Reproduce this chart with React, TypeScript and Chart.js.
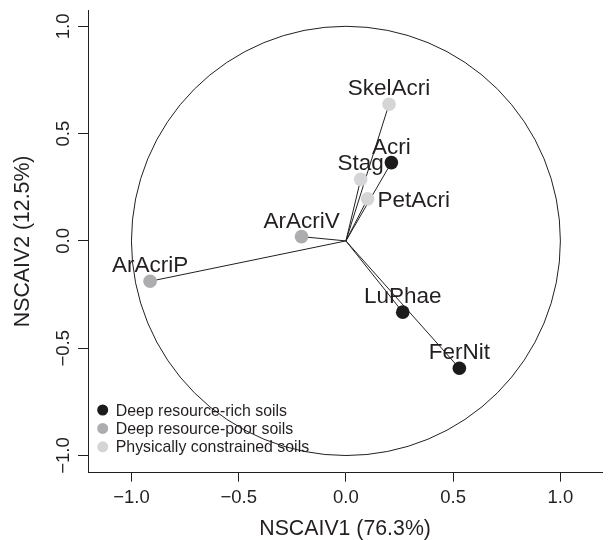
import React, { useEffect, useRef } from "react";
import { Chart, registerables } from "chart.js";

Chart.register(...registerables);

const siteNames = ["ArAcriP", "ArAcriV", "Stag", "Acri", "PetAcri", "SkelAcri", "LuPhae", "FerNit"];
const axis1Scores = [-0.913, -0.207, 0.069, 0.212, 0.101, 0.201, 0.265, 0.529];
const axis2Scores = [-0.188, 0.02, 0.287, 0.365, 0.196, 0.637, -0.332, -0.593];
const siteGroup = [1, 1, 2, 0, 2, 2, 0, 0];
const groupNames = ["Deep resource-rich soils", "Deep resource-poor soils", "Physically constrained soils"];
const groupColors = ["#1c1a1b", "#adadaf", "#d5d5d7"];
const xTickValues = [-1, -0.5, 0, 0.5, 1];
const xTickLabels = ["\u22121.0", "\u22120.5", "0.0", "0.5", "1.0"];
const yTickValues = [-1, -0.5, 0, 0.5, 1];
const yTickLabels = ["\u22121.0", "\u22120.5", "0.0", "0.5", "1.0"];
const xTitle = "NSCAIV1 (76.3%)";
const yTitle = "NSCAIV2 (12.5%)";
const circleRadius = 1;

const FONT = "'Liberation Sans', Arial, Helvetica, sans-serif";
const INK = "#231f20";
// labels placed to the right of their point instead of above
const RIGHT_LABELS = new Set(["PetAcri"]);

const biplotPlugin = {
  id: "biplot",
  beforeDatasetsDraw(chart: any) {
    const { ctx, scales } = chart;
    const xs = scales.x;
    const ys = scales.y;
    const cx = xs.getPixelForValue(0);
    const cy = ys.getPixelForValue(0);
    const rx = Math.abs(xs.getPixelForValue(circleRadius) - cx);
    const ry = Math.abs(ys.getPixelForValue(circleRadius) - cy);
    ctx.save();
    ctx.strokeStyle = INK;
    ctx.lineWidth = 1;
    ctx.beginPath();
    ctx.ellipse(cx, cy, rx, ry, 0, 0, Math.PI * 2);
    ctx.stroke();
    for (let i = 0; i < siteNames.length; i++) {
      ctx.beginPath();
      ctx.moveTo(cx, cy);
      ctx.lineTo(xs.getPixelForValue(axis1Scores[i]), ys.getPixelForValue(axis2Scores[i]));
      ctx.stroke();
    }
    ctx.restore();
  },
  afterDatasetsDraw(chart: any) {
    const { ctx, scales, chartArea } = chart;
    const xs = scales.x;
    const ys = scales.y;
    ctx.save();
    ctx.fillStyle = INK;
    // point labels
    ctx.font = `22.5px ${FONT}`;
    ctx.textBaseline = "alphabetic";
    for (let i = 0; i < siteNames.length; i++) {
      const px = xs.getPixelForValue(axis1Scores[i]);
      const py = ys.getPixelForValue(axis2Scores[i]);
      if (RIGHT_LABELS.has(siteNames[i])) {
        ctx.textAlign = "left";
        ctx.fillText(siteNames[i], px + 10, py + 8);
      } else {
        ctx.textAlign = "center";
        ctx.fillText(siteNames[i], px, py - 9);
      }
    }
    // x tick labels
    ctx.font = `18.5px ${FONT}`;
    ctx.textAlign = "center";
    for (let i = 0; i < xTickValues.length; i++) {
      ctx.fillText(xTickLabels[i], xs.getPixelForValue(xTickValues[i]), 502.5);
    }
    // y tick labels (rotated)
    for (let i = 0; i < yTickValues.length; i++) {
      const py = ys.getPixelForValue(yTickValues[i]);
      ctx.save();
      ctx.translate(68.5, py);
      ctx.rotate(-Math.PI / 2);
      ctx.fillText(yTickLabels[i], 0, 0);
      ctx.restore();
    }
    // axis titles
    ctx.font = `21.3px ${FONT}`;
    ctx.textAlign = "center";
    ctx.fillText(xTitle, (chartArea.left + chartArea.right) / 2, 535);
    ctx.save();
    ctx.translate(28.5, (chartArea.top + chartArea.bottom) / 2);
    ctx.rotate(-Math.PI / 2);
    ctx.fillText(yTitle, 0, 0);
    ctx.restore();
    // legend
    ctx.font = `15.9px ${FONT}`;
    ctx.textAlign = "left";
    for (let g = 0; g < groupNames.length; g++) {
      const ly = 410 + g * 18.4;
      ctx.fillStyle = groupColors[g];
      ctx.beginPath();
      ctx.arc(102.7, ly, 5.5, 0, Math.PI * 2);
      ctx.fill();
      ctx.fillStyle = INK;
      ctx.fillText(groupNames[g], 115.7, ly + 5.6);
    }
    ctx.restore();
  },
};

export default function App() {
  const canvasRef = useRef<HTMLCanvasElement | null>(null);

  useEffect(() => {
    const canvas = canvasRef.current;
    if (!canvas) return;
    const datasets = groupNames.map((name, g) => ({
      label: name,
      data: siteNames
        .map((_, i) => ({ x: axis1Scores[i], y: axis2Scores[i], g: siteGroup[i] }))
        .filter((p) => p.g === g)
        .map((p) => ({ x: p.x, y: p.y })),
      backgroundColor: groupColors[g],
      borderColor: groupColors[g],
      borderWidth: 0,
      pointRadius: 6.8,
      pointHoverRadius: 6.8,
    }));

    const chart = new Chart(canvas, {
      type: "scatter",
      data: { datasets },
      options: {
        responsive: false,
        animation: false,
        events: [],
        layout: { padding: { left: 0, right: 0, top: 10, bottom: 0 } },
        plugins: { legend: { display: false }, tooltip: { enabled: false } },
        scales: {
          x: {
            type: "linear",
            min: -1.2026,
            max: 1.195,
            afterBuildTicks: (scale: any) => {
              scale.ticks = xTickValues.map((v) => ({ value: v }));
            },
            afterFit: (scale: any) => {
              scale.height = 67.3;
            },
            ticks: { display: false },
            grid: {
              display: true,
              drawOnChartArea: false,
              drawTicks: true,
              tickLength: 9,
              color: INK,
              lineWidth: 1,
            },
            border: { display: true, color: INK, width: 1 },
          },
          y: {
            type: "linear",
            min: -1.08,
            max: 1.076,
            afterBuildTicks: (scale: any) => {
              scale.ticks = yTickValues.map((v) => ({ value: v }));
            },
            afterFit: (scale: any) => {
              scale.width = 88;
            },
            ticks: { display: false },
            grid: {
              display: true,
              drawOnChartArea: false,
              drawTicks: true,
              tickLength: 10,
              color: INK,
              lineWidth: 1,
            },
            border: { display: true, color: INK, width: 1 },
          },
        },
      },
      plugins: [biplotPlugin],
    });
    return () => chart.destroy();
  }, []);

  return (
    <div style={{ position: "absolute", left: 0, top: 0, width: 609, height: 540, background: "#fff" }}>
      <canvas ref={canvasRef} width={609} height={540} style={{ display: "block", width: 609, height: 540 }} />
    </div>
  );
}
